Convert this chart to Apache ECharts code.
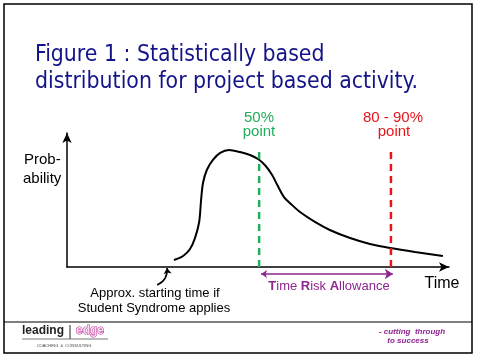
<!DOCTYPE html>
<html>
<head>
<meta charset="utf-8">
<script src="https://cdn.jsdelivr.net/npm/echarts@6/dist/echarts.min.js"></script>
<style>html,body{margin:0;padding:0;background:#fff}#c{width:479px;height:363px}</style>
</head>
<body>
<div id="c"></div>
<script>
// Probability curve (time, probability)
var curveTime = [28.0,30.4,32.2,33.5,34.6,35.1,35.6,36.6,38.2,40.1,42.4,45.3,47.9,50.0,51.8,53.7,55.2,56.8,58.9,61.0,64.9,68.8,74.1,79.3,84.6,91.1,98.4];
var curveProb = [5.2,8.2,13.4,21.6,33.6,50.0,62.7,72.4,79.9,85.1,87.3,85.8,83.6,80.6,76.1,68.7,60.4,52.2,46.3,41.0,33.6,27.6,21.6,17.2,14.2,11.2,8.2];
var point50 = 50.3;
var point8090 = 84.8;
var markerTop = 89.6;
var startTime = 26.2;
var allowanceLevel = -5.2;

var curveData = curveTime.map(function (t, i) { return [t, curveProb[i]]; });
var chart = echarts.init(document.getElementById('c'));
var AR = 'Liberation Sans, Arial, sans-serif';
var TITLE = 'DejaVu Sans Condensed, Tahoma, sans-serif';
var hiddenAxis = { axisLine: { show: false }, axisTick: { show: false }, axisLabel: { show: false }, splitLine: { show: false } };
function txt(text, x, y, font, fill, align) {
  return { type: 'text', silent: true, style: { text: text, x: x, y: y, font: font, fill: fill, align: align || 'left', verticalAlign: 'middle' } };
}
chart.setOption({
  animation: false,
  backgroundColor: '#fff',
  grid: [
    { left: 67, top: 133, width: 382, height: 134 },
    { left: 67, top: 267, width: 382, height: 26.8 }
  ],
  xAxis: [
    {
      type: 'value', min: 0, max: 100, gridIndex: 0,
      axisLine: { show: true, symbol: ['none', 'arrow'], symbolSize: [7, 10], lineStyle: { color: '#000', width: 1.5 } },
      axisTick: { show: false }, axisLabel: { show: false }, splitLine: { show: false }
    },
    Object.assign({ type: 'value', min: 0, max: 100, gridIndex: 1 }, hiddenAxis)
  ],
  yAxis: [
    {
      type: 'value', min: 0, max: 100, gridIndex: 0,
      axisLine: { show: true, symbol: ['none', 'arrow'], symbolSize: [7, 10], lineStyle: { color: '#000', width: 1.5 } },
      axisTick: { show: false }, axisLabel: { show: false }, splitLine: { show: false }
    },
    Object.assign({ type: 'value', min: -20, max: 0, gridIndex: 1 }, hiddenAxis)
  ],
  series: [
    {
      type: 'line', data: curveData, smooth: 0.3, showSymbol: false, silent: true,
      lineStyle: { color: '#000', width: 2 }
    },
    {
      type: 'line', data: [[point50, 0], [point50, markerTop]], showSymbol: false, silent: true,
      lineStyle: { color: '#21ad5b', width: 2.5, type: [7, 5] }
    },
    {
      type: 'line', data: [[point8090, 0], [point8090, markerTop]], showSymbol: false, silent: true,
      lineStyle: { color: '#e8141c', width: 2.5, type: [7, 5] }
    },
    {
      type: 'lines', coordinateSystem: 'cartesian2d', xAxisIndex: 1, yAxisIndex: 1, silent: true,
      symbol: ['arrow', 'arrow'], symbolSize: [6, 8],
      lineStyle: { color: '#8e2590', width: 1.5, opacity: 1 },
      data: [{ coords: [[point50 + 0.5, allowanceLevel], [point8090 + 0.5, allowanceLevel]] }]
    },
    {
      type: 'lines', coordinateSystem: 'cartesian2d', xAxisIndex: 1, yAxisIndex: 1, silent: true,
      symbol: ['none', 'arrow'], symbolSize: 6,
      lineStyle: { color: '#000', width: 1.5, opacity: 1, curveness: -0.35 },
      data: [{ coords: [[startTime - 2.6, -13.4], [startTime, -0.7]] }]
    }
  ],
  graphic: [
    { type: 'rect', silent: true, shape: { x: 4, y: 4, width: 468, height: 349 }, style: { fill: 'none', stroke: '#000', lineWidth: 1.5 } },
    { type: 'line', silent: true, shape: { x1: 4, y1: 322, x2: 472, y2: 322 }, style: { stroke: '#000', lineWidth: 1.2 } },
    txt('Figure 1 : Statistically based', 35, 55, '22.8px ' + TITLE, '#14148a'),
    txt('distribution for project based activity.', 35, 82, '22.8px ' + TITLE, '#14148a'),
    txt('Prob-', 24, 160, '15px ' + AR, '#000'),
    txt('ability', 23, 179, '15px ' + AR, '#000'),
    txt('50%', 259, 118, '15px ' + AR, '#21ad5b', 'center'),
    txt('point', 259, 132, '15px ' + AR, '#21ad5b', 'center'),
    txt('80 - 90%', 393, 118, '15px ' + AR, '#e8141c', 'center'),
    txt('point', 394, 132, '15px ' + AR, '#e8141c', 'center'),
    txt('Time', 442, 284, '16px ' + AR, '#000', 'center'),
    { type: 'text', silent: true, style: {
        text: '{b|T}ime {b|R}isk {b|A}llowance', x: 329, y: 286, font: '13px ' + AR, fill: '#8e2590', align: 'center', verticalAlign: 'middle',
        rich: { b: { fontWeight: 'bold', fontSize: 13, fontFamily: AR, fill: '#8e2590' } }
      } },
    txt('Approx. starting time if', 155, 293, '13px ' + AR, '#000', 'center'),
    txt('Student Syndrome applies', 154, 308, '13px ' + AR, '#000', 'center'),
    txt('leading', 22, 331, 'bold 12px ' + AR, '#222'),
    { type: 'line', silent: true, shape: { x1: 70, y1: 325, x2: 70, y2: 339 }, style: { stroke: '#222', lineWidth: 1 } },
    { type: 'text', silent: true, style: { text: 'edge', x: 76, y: 331, font: 'bold 12px ' + AR, fill: '#f6dcef', stroke: '#c2379b', lineWidth: 1, verticalAlign: 'middle' } },
    { type: 'line', silent: true, shape: { x1: 22, y1: 339, x2: 108, y2: 339 }, style: { stroke: '#555', lineWidth: 0.8 } },
    txt('COACHING  &  CONSULTING', 64, 346, '4px ' + AR, '#444', 'center'),
    txt('- cutting  through', 412, 332, 'italic bold 8px ' + AR, '#8e2590', 'center'),
    txt('to success', 408, 341, 'italic bold 8px ' + AR, '#8e2590', 'center')
  ]
});
</script>
</body>
</html>
